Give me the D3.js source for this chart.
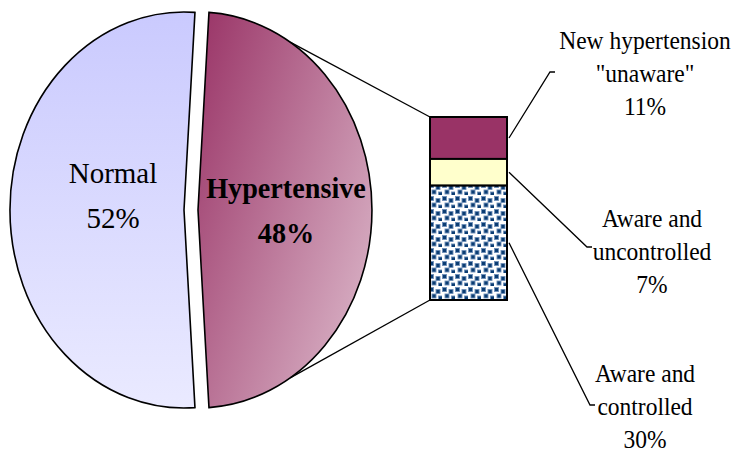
<!DOCTYPE html>
<html lang="en">
<head>
<meta charset="UTF-8">
<script src="https://d3js.org/d3.v7.min.js"></script>
<title>Hypertension status</title>
<style>
  body { margin: 0; background: #fff; }
  text { font-family: "Liberation Serif", "Times New Roman", serif; fill: #000; }
</style>
</head>
<body>
<div id="chart"></div>
<script>
// data
const pieLabels = ["Hypertensive", "Normal"];
const pieValues = [48, 52];
const barNames = [["New hypertension", "\"unaware\""], ["Aware and", "uncontrolled"], ["Aware and", "controlled"]];
const barValues = [11, 7, 30];

const width = 732, height = 452;
const svg = d3.select("#chart").append("svg")
    .attr("width", width)
    .attr("height", height);

const defs = svg.append("defs");

// gradients + pattern
let gNormal = defs.append("linearGradient").attr("id", "gNormal")
    .attr("x1", 0).attr("y1", 0).attr("x2", 0).attr("y2", 1);
gNormal.append("stop").attr("offset", 0).attr("stop-color", "#CACAFE");
gNormal.append("stop").attr("offset", 1).attr("stop-color", "#EAEAFF");

let gHyp = defs.append("linearGradient").attr("id", "gHyp")
    .attr("x1", 0).attr("y1", 0).attr("x2", 1).attr("y2", 0.75);
gHyp.append("stop").attr("offset", 0).attr("stop-color", "#993366");
gHyp.append("stop").attr("offset", 1).attr("stop-color", "#D8B0C4");

let pat = defs.append("pattern").attr("id", "confetti")
    .attr("patternUnits", "userSpaceOnUse")
    .attr("width", 13).attr("height", 13);
pat.append("rect").attr("width", 13).attr("height", 13).attr("fill", "#fff");
[[0, 1], [6.5, 3], [2.5, 7.5], [9, 9.5]].forEach(p => {
    pat.append("rect").attr("x", p[0] + 0.5).attr("y", p[1] + 0.5)
       .attr("width", 4).attr("height", 4)
       .attr("fill", "#0B3D73").attr("stroke", "#6F8FB8").attr("stroke-width", 0.9);
});

// pie (drawn squeezed into an ellipse)
const cx = 184, cy = 210, rx = 174, ry = 198, explode = 14;
const a0 = Math.PI / 2 - Math.PI * pieValues[0] / 100;
const pie = d3.pie().sort(null).startAngle(a0).endAngle(a0 + 2 * Math.PI);
const arc = d3.arc().innerRadius(0).outerRadius(1);
const fills = ["url(#gHyp)", "url(#gNormal)"];

svg.selectAll(".slice").data(pie(pieValues)).enter()
   .append("g")
   .attr("transform", (d, i) => "translate(" + (cx + (i == 0 ? explode : 0)) + "," + cy + ") scale(" + rx + "," + ry + ")")
   .append("path")
   .attr("d", arc)
   .attr("fill", (d, i) => fills[i])
   .attr("stroke", "#000")
   .attr("stroke-width", 1.6)
   .attr("vector-effect", "non-scaling-stroke");

// pie labels
const pieLabelPos = [[286, 198], [113, 183]];
pieLabels.forEach((name, i) => {
    let t = svg.append("text")
        .attr("text-anchor", "middle")
        .attr("font-size", i == 0 ? 30 : 29)
        .attr("font-weight", i == 0 ? "bold" : "normal")
        .attr("transform", "translate(" + pieLabelPos[i][0] + "," + pieLabelPos[i][1] + ") scale(" + (i == 0 ? 0.94 : 1) + ",1)");
    t.append("tspan").attr("x", 0).attr("y", 0).text(name);
    t.append("tspan").attr("x", 0).attr("y", 45).text(pieValues[i] + "%");
});

// bar of the hypertensive slice
const barX0 = 430, barX1 = 507;
const total = d3.sum(barValues);
const y = d3.scaleLinear().domain([0, total]).range([117, 300]);
const barColors = ["#993366", "#FFFFCC", "url(#confetti)"];
let acc = 0;
const stack = barValues.map(v => { let s = {y0: acc, y1: acc + v, v: v}; acc += v; return s; });

svg.selectAll(".seg").data(stack).enter()
   .append("rect")
   .attr("x", barX0)
   .attr("y", d => y(d.y0))
   .attr("width", barX1 - barX0)
   .attr("height", d => y(d.y1) - y(d.y0))
   .attr("fill", (d, i) => barColors[i])
   .attr("stroke", "#000")
   .attr("stroke-width", 2);

// connector lines pie -> bar
const hcx = cx + explode;
const connAngles = [32, 148];
const connEnds = [y(0), y(total)];
connAngles.forEach((deg, i) => {
    let t = deg * Math.PI / 180;
    svg.append("line")
       .attr("x1", hcx + rx * Math.sin(t)).attr("y1", cy - ry * Math.cos(t))
       .attr("x2", barX0).attr("y2", connEnds[i])
       .attr("stroke", "#000").attr("stroke-width", 1.3);
});

// bar labels with leader lines
const labelAnchor = [[550, 72], [587, 247], [590, 405]];
const labelPos = [[645, 49], [652, 227], [645, 382]];
stack.forEach((d, i) => {
    let my = (y(d.y0) + y(d.y1)) / 2;
    let a = labelAnchor[i];
    svg.append("path")
       .attr("d", "M" + (barX1 + 2) + "," + my + "L" + a[0] + "," + a[1] + "h5")
       .attr("fill", "none").attr("stroke", "#000").attr("stroke-width", 1.3);
    let lines = barNames[i].concat([barValues[i] + "%"]);
    let t = svg.append("text").attr("text-anchor", "middle").attr("font-size", 25)
        .attr("transform", "translate(" + labelPos[i][0] + "," + labelPos[i][1] + ") scale(0.94,1)");
    lines.forEach((s, k) => {
        t.append("tspan").attr("x", 0).attr("y", k * 33).text(s);
    });
});
</script>
</body>
</html>
